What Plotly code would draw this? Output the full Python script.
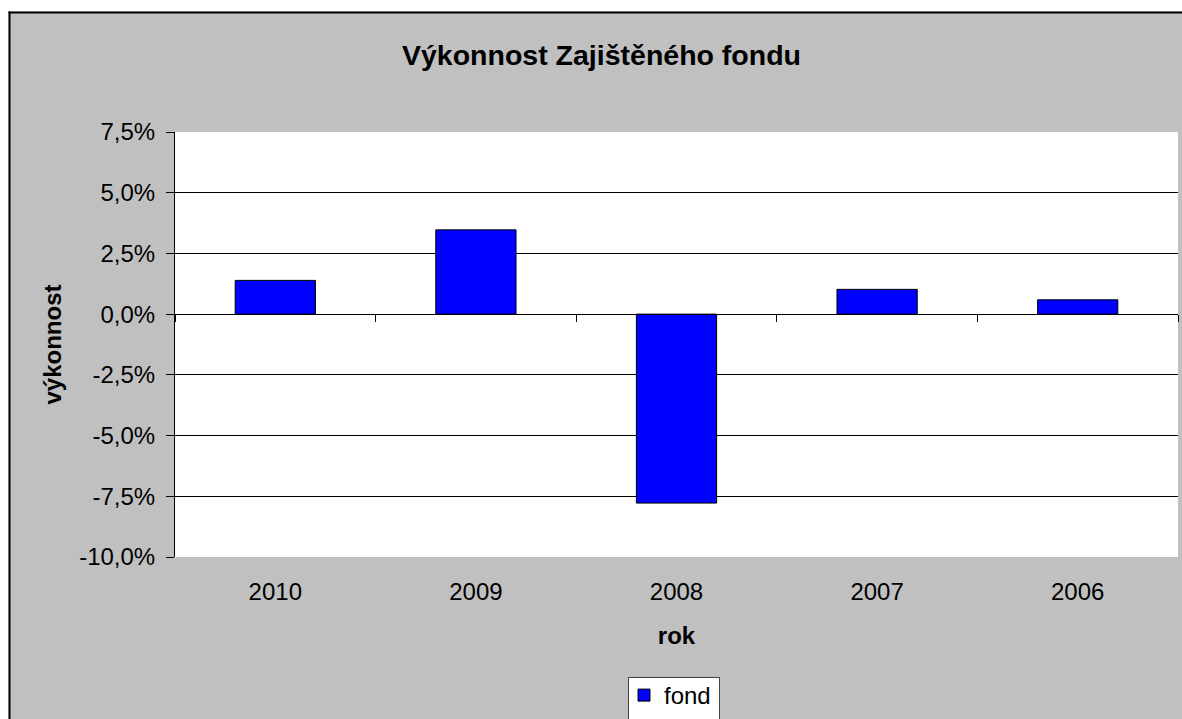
import plotly.graph_objects as go

# ---- data ----
years = ["2010", "2009", "2008", "2007", "2006"]
fond = [1.39, 3.47, -7.78, 1.02, 0.59]
y_ticks = [-10, -7.5, -5, -2.5, 0, 2.5, 5, 7.5]
y_labels = ["-10,0%", "-7,5%", "-5,0%", "-2,5%", "0,0%", "2,5%", "5,0%", "7,5%"]
grid_vals = [-7.5, -5, -2.5, 2.5, 5]
y_range = [-10, 7.5]
series_name = "fond"
title_text = "Výkonnost Zajištěného fondu"
x_title = "rok"
y_title = "výkonnost"

# ---- layout geometry ----
W, H = 1182, 719
L, R, T, B = 175, 4, 132, 162
pw = W - L - R
ph = H - T - B
FONT = "Liberation Sans, Arial, sans-serif"
GREY = "#C0C0C0"


def px_x(px):
    return (px - L) / pw


def px_y(py):
    return (H - B - py) / ph


n = len(years)
boundaries = [i - 0.5 for i in range(n + 1)]
zero_pos = (0 - y_range[0]) / (y_range[1] - y_range[0])

fig = go.Figure()
fig.add_trace(go.Bar(
    x=years, y=fond, name=series_name, width=0.4,
    marker=dict(color="#0000FF", line=dict(color="black", width=1)),
    showlegend=True,
))
# helper trace so the overlay axes (grid + zero axis with ticks) get drawn
fig.add_trace(go.Scatter(x=[], y=[], xaxis="x2", yaxis="y2",
                         showlegend=False, hoverinfo="skip"))

shapes = [
    # white outside the chart frame
    dict(type="rect", xref="paper", yref="paper", x0=px_x(-20), x1=px_x(8.5),
         y0=px_y(800), y1=px_y(-20), fillcolor="white", line=dict(width=0), layer="above"),
    dict(type="rect", xref="paper", yref="paper", x0=px_x(-20), x1=px_x(1300),
         y0=px_y(11.5), y1=px_y(-20), fillcolor="white", line=dict(width=0), layer="above"),
    # chart frame
    dict(type="line", xref="paper", yref="paper", x0=px_x(9.5), x1=px_x(9.5),
         y0=px_y(11.5), y1=px_y(800), line=dict(color="black", width=2)),
    dict(type="line", xref="paper", yref="paper", x0=px_x(8.5), x1=px_x(1300),
         y0=px_y(12.5), y1=px_y(12.5), line=dict(color="black", width=2)),
    # legend box (runs past the bottom edge, as in the original)
    dict(type="rect", xref="paper", yref="paper", x0=px_x(628.5), x1=px_x(719.5),
         y0=px_y(760), y1=px_y(677.5), fillcolor="white",
         line=dict(color="#404040", width=1), layer="above"),
]

fig.update_layout(
    width=W, height=H,
    margin=dict(l=L, r=R, t=T, b=B, pad=0, autoexpand=False),
    paper_bgcolor=GREY,
    plot_bgcolor="white",
    font=dict(family=FONT, size=24, color="black"),
    title=dict(text=title_text, x=601.5 / W, xref="container", xanchor="center",
               y=1 - 55 / H, yref="container", yanchor="middle",
               font=dict(family=FONT, size=28.5, color="black", weight="bold")),
    xaxis=dict(
        type="category", range=[-0.5, n - 0.5],
        showline=False, showgrid=False, zeroline=False,
        ticks="outside", ticklen=13, tickcolor="rgba(0,0,0,0)",
        tickfont=dict(size=24),
        title=dict(text=x_title, standoff=23,
                   font=dict(family=FONT, size=24, weight="bold")),
    ),
    xaxis2=dict(
        overlaying="x", anchor="free", position=zero_pos,
        range=[-0.5, n - 0.5], tickvals=boundaries,
        showline=True, linecolor="black", linewidth=1,
        ticks="outside", ticklen=7, tickcolor="black", tickwidth=1,
        showticklabels=False, showgrid=False, zeroline=False,
    ),
    yaxis=dict(
        range=y_range, tickvals=y_ticks, ticktext=y_labels,
        showline=True, linecolor="black", linewidth=1,
        ticks="outside", ticklen=8, tickcolor="black",
        ticklabelstandoff=6,
        showgrid=False, zeroline=False,
        tickfont=dict(size=24),
        title=dict(text=y_title, standoff=10,
                   font=dict(family=FONT, size=24, weight="bold")),
    ),
    yaxis2=dict(
        overlaying="y", range=y_range, tickvals=grid_vals,
        showgrid=True, gridcolor="black", gridwidth=1,
        showticklabels=False, ticks="", showline=False, zeroline=False,
    ),
    showlegend=True,
    legend=dict(
        x=px_x(624), y=px_y(673), xanchor="left", yanchor="top",
        bgcolor="rgba(0,0,0,0)", borderwidth=0,
        font=dict(family=FONT, size=24),
    ),
    shapes=shapes,
)

page_css = (
    "var s=document.createElement('style');"
    "s.textContent='html,body{margin:0;padding:0;width:1182px;height:719px;overflow:hidden;}"
    "body>div{height:719px;overflow:hidden;}';"
    "document.head.appendChild(s);"
)

fig.write_html(
    "out.html",
    config={"displayModeBar": False},
    post_script=page_css,
)
